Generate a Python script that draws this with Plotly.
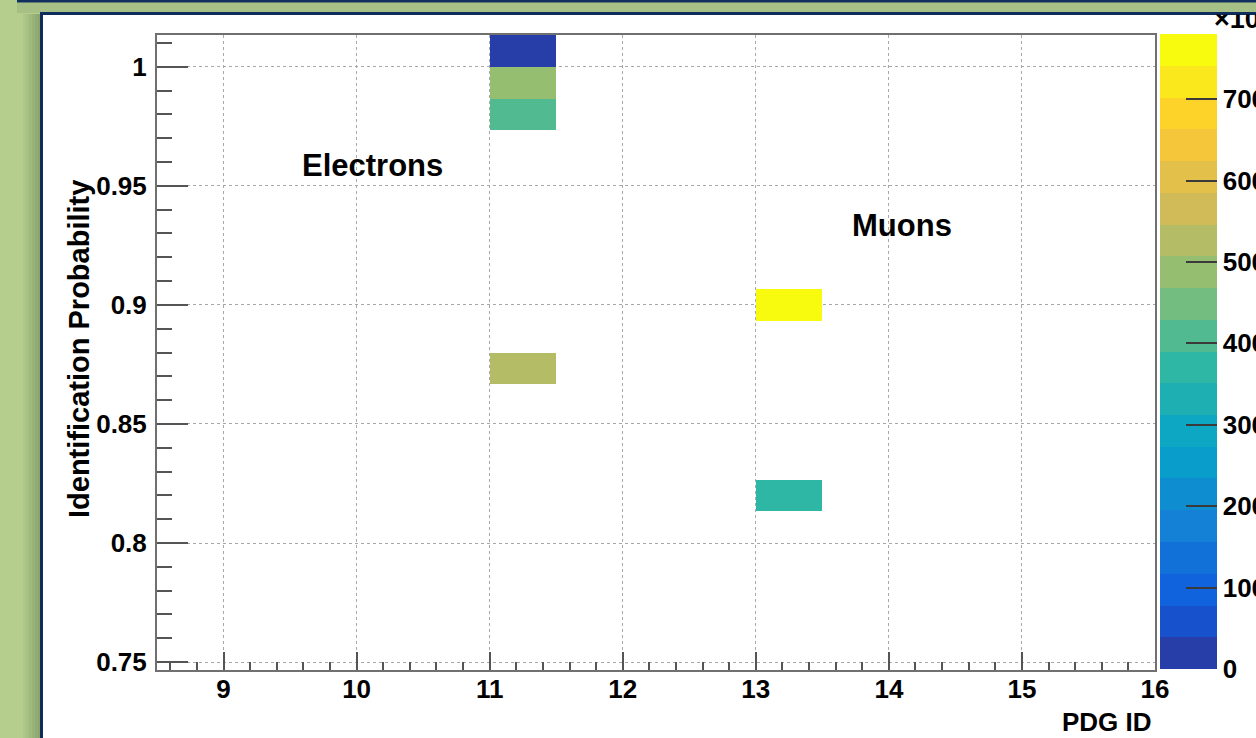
import numpy as np
import plotly.graph_objects as go

# ---- data: identification probability vs PDG ID (counts in units of 10^3) ----
pdg_id = [11, 11, 11, 11, 13, 13]
id_prob = [1.0067, 0.9933, 0.9800, 0.8733, 0.9000, 0.8200]
counts_k = [25, 490, 415, 530, 780, 375]

# histogram binning
pdg_lo, pdg_hi, pdg_nbins = 8.5, 16.0, 15
prob_lo, prob_hi, prob_nbins = 0.746667, 1.013333, 20

# axis ticks
pdg_ticks = [9, 10, 11, 12, 13, 14, 15, 16]
pdg_ticktext = ["9", "10", "11", "12", "13", "14", "15", "16"]
prob_ticks = [0.75, 0.80, 0.85, 0.90, 0.95, 1.00]
prob_ticktext = ["0.75", "0.8", "0.85", "0.9", "0.95", "1"]
z_ticks = [0, 100, 200, 300, 400, 500, 600, 700]
z_ticktext = ["0", "100", "200", "300", "400", "500", "600", "700"]

# ---- canvas geometry (pixels) ----
W, H = 1256, 738


def fx(px):
    return px / W


def fy(py):
    return 1 - py / H


FONT = "Liberation Sans, Arial, Helvetica, sans-serif"

# ---- 2D histogram ----
x_edges = np.linspace(pdg_lo, pdg_hi, pdg_nbins + 1)
y_edges = np.linspace(prob_lo, prob_hi, prob_nbins + 1)
hist, _, _ = np.histogram2d(pdg_id, id_prob, bins=[x_edges, y_edges], weights=counts_k)
z = hist.T
z = np.where(z > 0, z, np.nan)

# ---- "bird" palette, 20 discrete contour bands ----
bird_stops = [0.0, 0.125, 0.25, 0.375, 0.5, 0.625, 0.75, 0.875, 1.0]
bird_r = [0.2082, 0.0592, 0.0780, 0.0232, 0.1802, 0.5301, 0.8186, 0.9956, 0.9764]
bird_g = [0.1664, 0.3599, 0.5041, 0.6419, 0.7178, 0.7492, 0.7328, 0.7862, 0.9832]
bird_b = [0.5293, 0.8684, 0.8385, 0.7914, 0.6425, 0.4662, 0.3499, 0.1968, 0.0539]
n_bands = 20
colorscale = []
for i in range(n_bands):
    k = int((i + 0.99) * 255 / n_bands)
    f = k / 254
    r = np.interp(f, bird_stops, bird_r)
    g = np.interp(f, bird_stops, bird_g)
    b = np.interp(f, bird_stops, bird_b)
    col = f"rgb({round(r * 255)},{round(g * 255)},{round(b * 255)})"
    colorscale.append([i / n_bands, col])
    colorscale.append([(i + 1) / n_bands, col])

fig = go.Figure()

fig.add_trace(go.Heatmap(
    x=x_edges,
    y=y_edges,
    z=z,
    zmin=0,
    zmax=max(counts_k),
    colorscale=colorscale,
    hoverinfo="skip",
    colorbar=dict(
        x=fx(1160), xanchor="left", xpad=0,
        y=fy(669), yanchor="bottom", ypad=0,
        len=635, lenmode="pixels",
        thickness=57, thicknessmode="pixels",
        outlinewidth=0,
        tickmode="array", tickvals=z_ticks, ticktext=z_ticktext,
        ticks="inside", ticklen=31, tickwidth=2, tickcolor="#3a3a3a",
        tickfont=dict(family=FONT, size=26, color="black", weight="bold"),
    ),
))

# exponent label of the colour scale, clipped by the panel border
fig.add_trace(go.Scatter(
    x=[1214], y=[21], mode="text",
    text=["×10<sup>3</sup>"], textposition="middle right",
    textfont=dict(family=FONT, size=27, color="black", weight="bold"),
    cliponaxis=True, hoverinfo="skip", showlegend=False,
    xaxis="x2", yaxis="y2",
))

axis_common = dict(
    showline=True, linecolor="#707070", linewidth=2, mirror=True,
    showgrid=True, gridcolor="#a8a8a8", gridwidth=1, griddash="dot",
    zeroline=False, ticks="inside", tickcolor="#555555", tickwidth=1.5,
    tickfont=dict(family=FONT, size=26, color="black", weight="bold"),
    automargin=False,
)

fig.update_layout(
    width=W, height=H,
    margin=dict(l=0, r=0, t=0, b=0, pad=0, autoexpand=False),
    paper_bgcolor="#b5ce8d",
    plot_bgcolor="white",
    showlegend=False,
    font=dict(family=FONT, color="black"),
    xaxis=dict(
        axis_common,
        domain=[fx(157), fx(1155)],
        range=[pdg_lo, pdg_hi],
        tickmode="array", tickvals=pdg_ticks, ticktext=pdg_ticktext,
        ticklen=18, ticklabelstandoff=-5,
        minor=dict(tickmode="linear", tick0=9, dtick=0.2, ticks="inside",
                   ticklen=8, tickcolor="#555555", tickwidth=1.5, showgrid=False),
    ),
    yaxis=dict(
        axis_common,
        domain=[fy(670), fy(35)],
        range=[prob_lo, prob_hi],
        tickmode="array", tickvals=prob_ticks, ticktext=prob_ticktext,
        ticklen=31, ticklabelstandoff=3,
        minor=dict(tickmode="linear", tick0=0.75, dtick=0.01, ticks="inside",
                   ticklen=15, tickcolor="#555555", tickwidth=1.5, showgrid=False),
    ),
    xaxis2=dict(domain=[fx(1160), 1], range=[1160, W], visible=False,
                anchor="y2", fixedrange=True),
    yaxis2=dict(domain=[0, fy(14.5)], range=[H, 14.5], visible=False,
                anchor="x2", fixedrange=True),
)

# ---- slide background: left shadow, top strip, white panel ----
shapes = []
shadow_cols = ["#b5ce8d", "#aec788", "#a7c083", "#a0b97e", "#99b278", "#92ab73", "#8ba46e"]
for i, c in enumerate(shadow_cols):
    shapes.append(dict(type="rect", xref="paper", yref="paper", layer="below",
                       x0=fx(20 + 3 * i), x1=fx(23 + 3 * i), y0=0, y1=fy(14),
                       fillcolor=c, line=dict(width=0)))
shapes.append(dict(type="rect", xref="paper", yref="paper", layer="below",
                   x0=fx(17), x1=1, y0=fy(13), y1=fy(2.5),
                   fillcolor="#a6c086", line=dict(width=0)))
shapes.append(dict(type="rect", xref="paper", yref="paper", layer="below",
                   x0=fx(17), x1=1, y0=fy(2.5), y1=1,
                   fillcolor="#12305f", line=dict(width=0)))
shapes.append(dict(type="rect", xref="paper", yref="paper", layer="below",
                   x0=fx(41.5), x1=fx(W + 6), y0=fy(H + 6), y1=fy(13.5),
                   fillcolor="white", line=dict(color="#0f2d5c", width=3)))
fig.update_layout(shapes=shapes)

# ---- text labels ----
fig.add_annotation(x=10.116, y=0.9584, xref="x", yref="y", text="Electrons",
                   showarrow=False, xanchor="center", yanchor="middle",
                   font=dict(family=FONT, size=31, color="black", weight="bold"))
fig.add_annotation(x=14.098, y=0.9332, xref="x", yref="y", text="Muons",
                   showarrow=False, xanchor="center", yanchor="middle",
                   font=dict(family=FONT, size=31, color="black", weight="bold"))
fig.add_annotation(x=fx(1154), y=fy(722), xref="paper", yref="paper", text="PDG ID",
                   showarrow=False, xanchor="right", yanchor="middle",
                   font=dict(family=FONT, size=26, color="black", weight="bold"))
fig.add_annotation(x=fx(79), y=fy(349), xref="paper", yref="paper",
                   text="Identification Probability", textangle=-90,
                   showarrow=False, xanchor="center", yanchor="middle",
                   font=dict(family=FONT, size=29, color="black", weight="bold"))

fig.write_html("out.html")
